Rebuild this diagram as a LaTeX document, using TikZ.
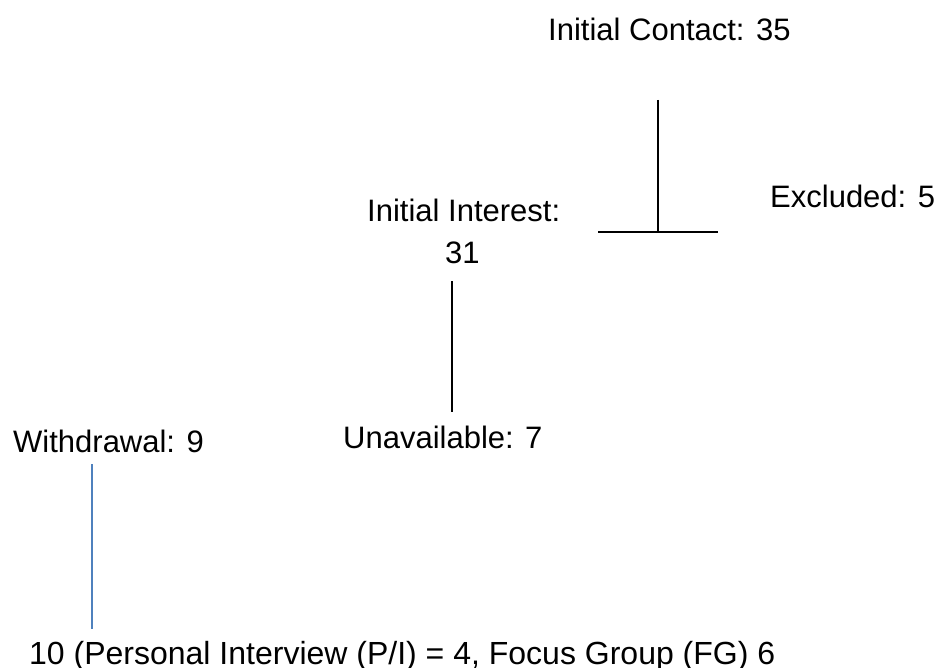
\documentclass[tikz,border=0pt]{standalone}
\usepackage{fontspec}
\setmainfont{Liberation Sans}
\definecolor{lineblue}{RGB}{79,129,189}
\begin{document}
\begin{tikzpicture}[x=1pt,y=-1pt,
  label/.style={anchor=base west,inner sep=0pt,font=\fontsize{31}{36}\selectfont},
  flow/.style={line width=1.5pt,black},
  blueflow/.style={line width=1.5pt,lineblue}]
  \useasboundingbox (0,0) rectangle (947,668);

  % stage labels
  \node[label] (contact)  at (548,41)  {Initial Contact: 35};
  \node[label] (interest) at (367,222) {Initial Interest:};
  \node[label] (interestn) at (445,263) {31};
  \node[label] (excluded) at (770,208) {Excluded: 5};
  \node[label] (unavail)  at (343,448) {Unavailable: 7};
  \node[label] (withdraw) at (13,452)  {Withdrawal: 9};
  \node[label,font=\fontsize{32}{38}\selectfont] (final) at (29,664)
    {10 (Personal Interview (P/I) = 4, Focus Group (FG) 6};

  % connector end points
  \coordinate (c1) at (658,100);
  \coordinate (c2) at (658,232);
  \coordinate (barL) at (598,232);
  \coordinate (barR) at (718,232);
  \coordinate (i1) at (452,281);
  \coordinate (i2) at (452,412);
  \coordinate (w1) at (92,464);
  \coordinate (w2) at (92,629);

  % connectors
  \draw[flow] (c1) -- (c2);
  \draw[flow] (barL) -- (barR);
  \draw[flow] (i1) -- (i2);
  \draw[blueflow] (w1) -- (w2);
\end{tikzpicture}
\end{document}
